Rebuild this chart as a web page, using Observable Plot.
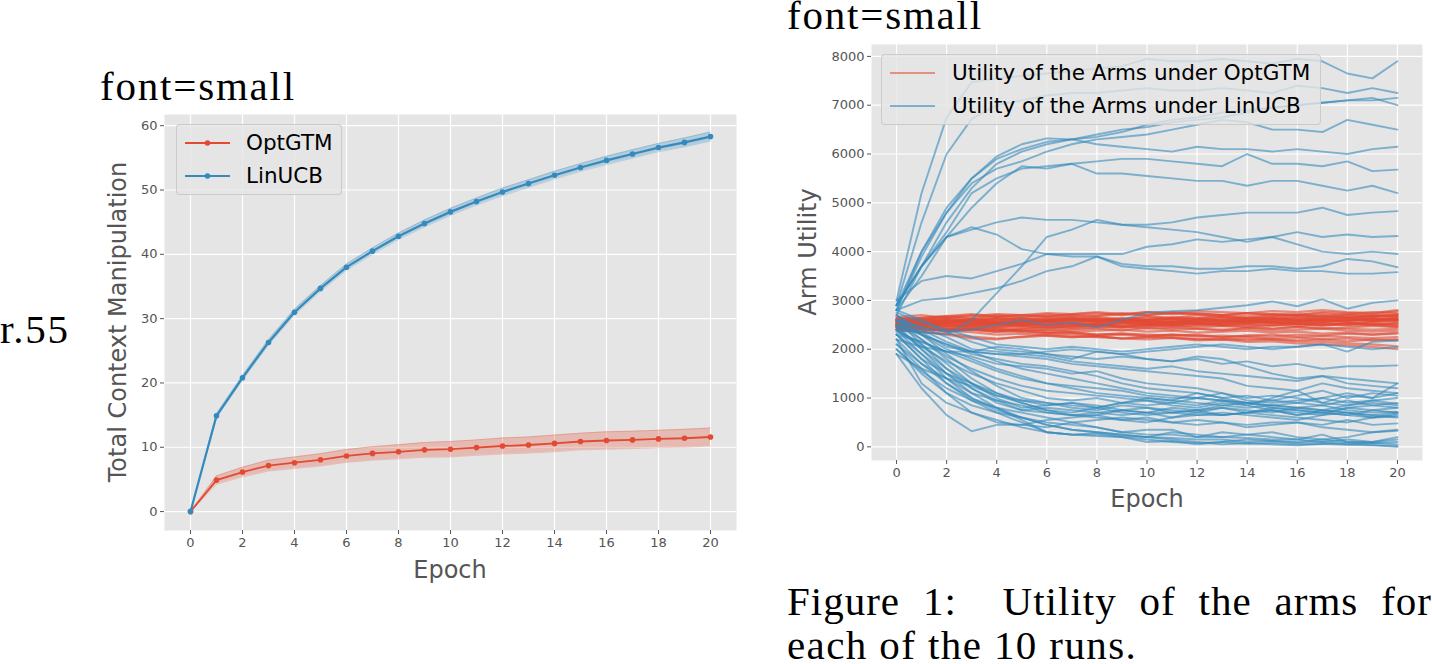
<!DOCTYPE html>
<html>
<head>
<meta charset="utf-8">
<script src="https://cdn.jsdelivr.net/npm/d3@7"></script>
<script src="https://cdn.jsdelivr.net/npm/@observablehq/plot@0.6"></script>
<style>
  html, body { margin: 0; padding: 0; background: #fff; }
  #page { position: relative; width: 1432px; height: 664px; overflow: hidden; background: #fff; }
  .tex { position: absolute; font-family: "Liberation Serif", serif; font-size: 41px; line-height: 0.75; color: #000; white-space: nowrap; letter-spacing: 1.8px; }
  .axlabel { position: absolute; font-family: "DejaVu Sans", sans-serif; font-size: 24px; line-height: 1; color: #555; white-space: nowrap; transform: translate(-50%, -50%); }
  .axlabel.v { transform: translate(-50%, -50%) rotate(-90deg); }
  .chart { position: absolute; }
  .legend { position: absolute; box-sizing: border-box; background: rgba(229,229,229,0.8); border: 1px solid rgba(200,200,200,0.9); border-radius: 4px; }
  .legend svg { position: absolute; left: 0; top: 0; overflow: visible; }
  .legend .item { position: absolute; font-family: "DejaVu Sans", sans-serif; font-size: 21.5px; line-height: 1; color: #000; white-space: nowrap; transform: translateY(-50%); }
</style>
</head>
<body>
<div id="page">
  <div class="tex" style="left:100px; top:71px;">font=small</div>
  <div class="tex" style="left:0px; top:314px;">r.55</div>
  <div class="tex" style="left:787px; top:0px;">font=small</div>
  <div class="tex" style="left:787px; top:586px; width:645px; white-space:normal; text-align:justify; text-align-last:justify; letter-spacing:1px;">Figure 1:&nbsp; Utility of the arms for</div>
  <div class="tex" style="left:787px; top:630px; letter-spacing:1.4px;">each of the 10 runs.</div>

  <div id="left" class="chart" style="left:90px; top:100px;"></div>
  <div id="right" class="chart" style="left:800px; top:30px;"></div>

  <div class="axlabel v" style="left:118px; top:322px;">Total Context Manipulation</div>
  <div class="axlabel" style="left:450px; top:570px;">Epoch</div>
  <div class="axlabel v" style="left:808px; top:252px;">Arm Utility</div>
  <div class="axlabel" style="left:1147px; top:499px;">Epoch</div>

  <div class="legend" style="left:176px; top:124px; width:166px; height:71px;">
    <svg width="166" height="71">
      <line x1="8" x2="53" y1="18" y2="18" stroke="#E24A33" stroke-width="1.8"/>
      <circle cx="30.5" cy="18" r="2.8" fill="#E24A33"/>
      <line x1="8" x2="53" y1="51" y2="51" stroke="#348ABD" stroke-width="2.2"/>
      <circle cx="30.5" cy="51" r="2.8" fill="#348ABD"/>
    </svg>
    <div class="item" style="left:69px; top:18px;">OptGTM</div>
    <div class="item" style="left:69px; top:51px;">LinUCB</div>
  </div>

  <div class="legend" style="left:881px; top:54px; width:440px; height:71px;">
    <svg width="440" height="71">
      <line x1="8" x2="53" y1="18" y2="18" stroke="#E24A33" stroke-opacity="0.55" stroke-width="1.8"/>
      <line x1="8" x2="53" y1="51" y2="51" stroke="#348ABD" stroke-opacity="0.6" stroke-width="1.8"/>
    </svg>
    <div class="item" style="left:70px; top:18px;">Utility of the Arms under OptGTM</div>
    <div class="item" style="left:70px; top:51px;">Utility of the Arms under LinUCB</div>
  </div>
</div>

<script>
// ---- shared ----
const epochs = [0, 1, 2, 3, 4, 5, 6, 7, 8, 9, 10, 11, 12, 13, 14, 15, 16, 17, 18, 19, 20];
const epochTicks = [0, 2, 4, 6, 8, 10, 12, 14, 16, 18, 20];
const RED = "#E24A33";
const BLUE = "#348ABD";

// ---- left panel: total context manipulation (mean and spread) ----
const manipTicks = [0, 10, 20, 30, 40, 50, 60];
const optgtmMean = [0, 4.9, 6.15, 7.15, 7.6, 8.05, 8.65, 9.05, 9.3, 9.6, 9.7, 9.95, 10.2, 10.35, 10.6, 10.9, 11.05, 11.15, 11.3, 11.4, 11.6];
const optgtmSpread = [0, 0.65, 0.75, 0.85, 0.9, 0.95, 1.0, 1.05, 1.1, 1.15, 1.2, 1.2, 1.25, 1.25, 1.3, 1.3, 1.35, 1.35, 1.35, 1.4, 1.4];
const linucbMean = [0, 14.9, 20.8, 26.3, 31.0, 34.7, 38.0, 40.5, 42.8, 44.8, 46.6, 48.2, 49.7, 51.0, 52.3, 53.5, 54.6, 55.6, 56.6, 57.4, 58.3];
const linucbSpread = [0, 0.3, 0.35, 0.4, 0.45, 0.45, 0.5, 0.5, 0.5, 0.55, 0.55, 0.55, 0.6, 0.6, 0.6, 0.6, 0.65, 0.65, 0.65, 0.7, 0.7];

// ---- right panel: per-arm utility, one array per arm and run ----
const utilityTicks = [0, 1000, 2000, 3000, 4000, 5000, 6000, 7000, 8000];
const optgtmArms = [
  [2620,2650,2680,2640,2700,2660,2720,2680,2700,2740,2700,2760,2720,2700,2740,2720,2700,2760,2740,2720,2780],
  [2580,2600,2560,2620,2580,2640,2600,2660,2620,2600,2680,2640,2700,2660,2640,2700,2680,2640,2700,2680,2720],
  [2550,2520,2580,2540,2600,2560,2580,2620,2580,2640,2600,2620,2580,2640,2620,2660,2620,2680,2640,2660,2700],
  [2500,2540,2520,2560,2500,2540,2580,2540,2600,2560,2580,2540,2600,2580,2560,2620,2580,2600,2640,2600,2650],
  [2480,2500,2460,2520,2480,2540,2500,2520,2480,2540,2520,2560,2520,2540,2580,2540,2560,2600,2560,2580,2620],
  [2450,2480,2500,2460,2520,2480,2500,2460,2500,2480,2520,2500,2540,2500,2520,2560,2520,2540,2500,2560,2580],
  [2420,2450,2420,2480,2440,2460,2420,2480,2460,2440,2480,2460,2500,2480,2460,2500,2480,2520,2480,2500,2540],
  [2400,2420,2380,2400,2360,2420,2380,2400,2420,2380,2440,2400,2420,2380,2440,2420,2460,2420,2440,2480,2450],
  [2600,2560,2600,2580,2540,2580,2560,2600,2560,2580,2540,2560,2600,2560,2580,2540,2520,2560,2540,2500,2520],
  [2650,2620,2660,2700,2660,2640,2680,2640,2660,2620,2600,2640,2620,2580,2600,2620,2580,2560,2600,2580,2560],
  [2520,2560,2540,2500,2540,2520,2480,2520,2500,2460,2500,2480,2440,2480,2460,2420,2460,2440,2420,2400,2420],
  [2560,2600,2640,2620,2660,2700,2680,2720,2740,2700,2760,2720,2740,2700,2680,2720,2700,2740,2700,2680,2700],
  [2470,2430,2400,2440,2420,2380,2400,2360,2380,2400,2360,2380,2340,2360,2380,2340,2360,2320,2340,2300,2320],
  [2530,2500,2540,2560,2520,2560,2600,2580,2620,2580,2560,2600,2620,2660,2620,2640,2600,2640,2660,2620,2640],
  [2440,2400,2380,2420,2400,2420,2460,2440,2480,2520,2500,2540,2520,2560,2540,2580,2560,2600,2580,2620,2600],
  [2580,2620,2600,2580,2620,2600,2640,2620,2600,2620,2660,2620,2640,2680,2640,2620,2660,2700,2660,2700,2680],
  [2500,2460,2480,2440,2460,2500,2460,2480,2520,2480,2460,2500,2480,2520,2500,2480,2520,2500,2540,2520,2480],
  [2620,2580,2620,2600,2640,2620,2580,2620,2580,2560,2600,2580,2560,2600,2620,2580,2600,2620,2580,2620,2600],
  [2460,2500,2540,2520,2560,2540,2520,2560,2540,2600,2560,2540,2580,2560,2600,2560,2580,2560,2600,2640,2600],
  [2540,2520,2480,2500,2460,2480,2440,2420,2440,2460,2420,2440,2420,2400,2420,2380,2400,2420,2380,2360,2380],
  [2450,2400,2380,2350,2300,2320,2280,2250,2270,2220,2200,2230,2180,2200,2150,2160,2120,2100,2080,2050,2000],
  [2500,2450,2420,2400,2380,2350,2330,2320,2280,2300,2260,2230,2200,2220,2180,2200,2160,2150,2120,2100,2060],
  [2400,2350,2320,2260,2220,2250,2280,2250,2270,2220,2240,2250,2210,2190,2220,2200,2180,2200,2160,2200,2180],
  [2450,2420,2380,2400,2350,2380,2330,2350,2300,2320,2300,2280,2300,2250,2280,2300,2250,2270,2250,2230,2250],
  [2380,2360,2300,2220,2200,2260,2300,2280,2250,2220,2260,2300,2280,2240,2280,2260,2300,2280,2320,2300,2340],
  [2520,2480,2440,2420,2400,2380,2350,2340,2300,2320,2280,2300,2260,2280,2250,2220,2240,2200,2220,2180,2200],
  [2660,2700,2640,2680,2720,2700,2740,2720,2760,2720,2700,2740,2780,2760,2740,2780,2760,2800,2760,2740,2800],
  [2600,2640,2680,2720,2680,2700,2660,2700,2680,2720,2760,2740,2720,2700,2740,2700,2720,2680,2720,2760,2740],
  [2560,2580,2540,2580,2620,2600,2560,2600,2640,2600,2620,2660,2640,2600,2640,2660,2700,2660,2640,2680,2660],
  [2480,2520,2560,2600,2560,2580,2620,2600,2560,2600,2580,2620,2580,2600,2560,2600,2640,2600,2620,2580,2600],
  [2500,2520,2500,2480,2520,2500,2540,2500,2520,2540,2500,2520,2540,2500,2520,2500,2540,2500,2520,2540,2500],
  [2560,2540,2580,2540,2560,2520,2560,2540,2520,2560,2540,2500,2540,2520,2560,2540,2520,2480,2520,2500,2460]
];
const linucbArms = [
  [3000,5200,6750,7470,7550,7600,7650,7700,7750,7800,7950,7900,7900,7950,7900,7850,7950,7900,7650,7550,7900],
  [2900,4600,6000,6720,7000,7100,7200,7250,7250,7300,7350,7300,7300,7350,7300,7250,7400,7350,7250,7350,7250],
  [2800,3900,4800,5500,5900,6100,6250,6300,6350,6450,6600,6700,6750,6850,6900,6950,7000,7050,7100,7100,7150],
  [2700,3700,4600,5300,5800,6050,6200,6300,6400,6500,6550,6650,6700,6750,6850,6950,7000,7050,7100,7150,7000],
  [2900,4000,4800,5400,5700,5850,6050,6200,6300,6350,6400,6500,6600,6700,6650,6500,6500,6450,6700,6600,6500],
  [2800,4000,4900,5500,5950,6200,6320,6300,6200,6150,6100,6050,6150,6100,6100,6050,6100,6050,6000,6100,6150],
  [2800,3500,4300,4900,5400,5750,5700,5800,5850,5900,5900,5850,5800,5750,6000,5800,5800,5750,5850,5650,5680],
  [2900,3700,4400,5200,5500,5700,5750,5800,5600,5600,5550,5500,5450,5450,5350,5450,5450,5350,5250,5350,5200],
  [2900,3700,4300,4450,4600,4700,4650,4650,4600,4550,4550,4600,4700,4750,4800,4800,4800,4900,4750,4800,4830],
  [2900,3700,4300,4500,4350,4050,3950,3900,3900,3750,3700,3700,3650,3650,3700,3700,3650,3700,3850,3800,3680],
  [2400,2350,2300,2600,3150,3700,4300,4450,4650,4550,4500,4450,4400,4300,4200,4300,4400,4300,4350,4300,4320],
  [3000,3400,3500,3450,3600,3750,3950,3950,3950,3950,4100,4150,4250,4200,4250,4300,4150,4000,3950,4000,3950],
  [2800,3000,3050,3150,3250,3400,3600,3700,3900,3700,3650,3600,3550,3600,3600,3650,3600,3600,3550,3550,3580],
  [2600,2450,2350,2400,2500,2600,2500,2550,2450,2600,2750,2780,2800,2850,2900,2980,2880,3020,2830,2950,3000],
  [2200,1300,900,700,550,400,300,250,250,200,150,100,80,100,60,80,50,60,40,30,20],
  [2300,1800,1300,950,700,500,300,250,220,200,100,120,50,100,150,120,100,150,100,80,50],
  [2500,2000,1500,1100,800,550,300,250,280,220,200,180,150,150,100,120,80,100,150,100,200],
  [2000,1500,1100,850,700,600,450,350,300,250,200,300,250,200,250,200,150,250,100,100,150],
  [2400,1900,1400,1000,750,600,500,450,400,300,350,350,200,300,250,300,200,150,200,300,350],
  [1900,1200,650,320,450,450,550,600,650,750,700,700,650,650,700,750,650,700,650,600,650],
  [2100,1600,1100,700,500,450,400,500,550,600,550,500,550,500,450,500,500,450,550,450,480],
  [2600,2100,1600,1200,950,750,700,650,700,750,800,700,750,800,700,750,650,750,700,650,700],
  [2300,1900,1500,1200,900,750,800,750,700,650,700,600,650,700,650,600,550,650,700,600,620],
  [2500,2200,1800,1400,1100,900,750,700,800,700,650,700,750,650,700,800,750,700,800,850,900],
  [2700,2300,1900,1550,1250,1000,900,800,750,850,800,750,700,800,750,700,800,850,750,700,720],
  [2400,2100,1700,1300,1000,800,850,900,800,900,950,850,800,900,850,750,700,650,800,750,800],
  [2200,1700,1400,1100,950,850,700,650,650,550,500,600,700,650,700,650,600,550,500,600,680],
  [2600,2300,2000,1800,1600,1450,1300,1200,1100,1050,1000,950,1100,1000,1050,950,900,1000,1100,1000,1100],
  [2700,2400,2150,1950,1750,1600,1500,1400,1300,1200,1100,1050,1000,1100,950,900,950,1000,900,950,880],
  [2500,2300,2100,1900,1800,1700,1650,1550,1450,1300,1200,1150,1100,1000,900,850,800,750,700,650,600],
  [2300,2150,1950,1850,1700,1650,1600,1500,1550,1400,1300,1250,1200,1100,1000,1050,1000,900,1050,1000,1300],
  [2600,2350,2050,1950,1900,1850,1800,1700,1650,1600,1550,1500,1450,1400,1250,1200,1150,1300,1200,1150,1100],
  [2400,2050,1750,1500,1300,1150,1000,950,1000,900,850,900,1000,950,850,1000,1150,900,850,950,1000],
  [2750,2550,2400,2250,2100,2050,2000,2050,2000,1950,2000,2050,2100,2050,2000,2050,2050,2100,1950,2150,2180],
  [2800,2600,2350,2150,2000,1950,1900,1850,1800,1850,1800,1750,1800,1700,1750,1650,1700,1600,1650,1650,1670],
  [2600,2450,2250,2000,1950,1900,1850,1750,1700,1650,1600,1650,1550,1500,1450,1400,1350,1450,1400,1350,1300],
  [2200,2050,1950,1950,2050,2000,1900,1800,1950,1900,1800,1750,1850,1800,1650,1500,1400,1450,1300,1250,1200],
  [2500,2300,2100,1950,1900,1900,1950,2000,1950,1900,1950,2000,2050,2100,2050,2000,2050,2100,2050,2000,2040],
  [2100,1700,1300,1000,800,600,450,350,300,250,200,150,100,50,80,50,30,60,80,40,0],
  [2000,1550,1200,950,800,700,600,500,400,300,250,250,200,200,180,150,150,100,50,80,100],
  [2300,1800,1500,1300,1100,950,850,900,850,750,700,800,750,850,900,800,750,700,650,750,700],
  [1900,1600,1400,1250,1050,950,900,850,800,900,1000,950,900,850,800,850,800,750,850,900,850],
  [2600,2200,1850,1600,1400,1250,1150,1100,1050,1000,950,900,850,950,900,950,1050,1150,1000,1100,1050],
  [2450,2000,1600,1300,1050,900,750,650,600,550,600,500,450,500,400,450,500,400,350,300,330],
  [2350,2150,1950,1750,1550,1400,1300,1250,1200,1150,1050,1000,1000,950,900,850,900,850,950,850,800]
];

// ---- common styling for both panels ----
const baseStyle = {
  fontFamily: "'DejaVu Sans', sans-serif",
  fontSize: "13px",
  color: "#555",
  background: "transparent",
  overflow: "visible"
};
const panelMarks = (xTicks, yTicks, yFormat) => [
  Plot.frame({fill: "#E5E5E5", stroke: null}),
  Plot.gridX(xTicks, {stroke: "#fff", strokeOpacity: 1, strokeWidth: 1.2}),
  Plot.gridY(yTicks, {stroke: "#fff", strokeOpacity: 1, strokeWidth: 1.2}),
  Plot.axisX(xTicks, {tickSize: 4, tickPadding: 3, stroke: "#555", label: null}),
  Plot.axisY(yTicks, {tickSize: 4, tickPadding: 3, stroke: "#555", label: null, tickFormat: yFormat})
];

// ---- left chart ----
const manipRows = epochs.map((e, i) => ({
  epoch: e,
  opt: optgtmMean[i], optLo: optgtmMean[i] - optgtmSpread[i], optHi: optgtmMean[i] + optgtmSpread[i],
  lin: linucbMean[i], linLo: linucbMean[i] - linucbSpread[i], linHi: linucbMean[i] + linucbSpread[i]
}));

const leftChart = Plot.plot({
  width: 660, height: 490,
  marginLeft: 74, marginRight: 14, marginTop: 14, marginBottom: 60,
  x: {domain: [-1, 21], axis: null},
  y: {domain: [-2.94, 61.74], axis: null},
  style: baseStyle,
  marks: [
    ...panelMarks(epochTicks, manipTicks, d => String(d)),
    Plot.areaY(manipRows, {x: "epoch", y1: "optLo", y2: "optHi", fill: RED, fillOpacity: 0.28}),
    Plot.line(manipRows, {x: "epoch", y: "optLo", stroke: RED, strokeOpacity: 0.25, strokeWidth: 1}),
    Plot.line(manipRows, {x: "epoch", y: "optHi", stroke: RED, strokeOpacity: 0.25, strokeWidth: 1}),
    Plot.areaY(manipRows, {x: "epoch", y1: "linLo", y2: "linHi", fill: BLUE, fillOpacity: 0.28}),
    Plot.line(manipRows, {x: "epoch", y: "linLo", stroke: BLUE, strokeOpacity: 0.25, strokeWidth: 1}),
    Plot.line(manipRows, {x: "epoch", y: "linHi", stroke: BLUE, strokeOpacity: 0.25, strokeWidth: 1}),
    Plot.line(manipRows, {x: "epoch", y: "opt", stroke: RED, strokeWidth: 1.8}),
    Plot.dot(manipRows, {x: "epoch", y: "opt", r: 2.8, fill: RED, stroke: null}),
    Plot.line(manipRows, {x: "epoch", y: "lin", stroke: BLUE, strokeWidth: 2.2}),
    Plot.dot(manipRows, {x: "epoch", y: "lin", r: 2.8, fill: BLUE, stroke: null})
  ]
});
document.getElementById("left").appendChild(leftChart);

// ---- right chart ----
const toRows = (arms, tag) => arms.flatMap((vals, k) =>
  vals.map((v, i) => ({arm: tag + k, epoch: epochs[i], utility: v})));
const optgtmRows = toRows(optgtmArms, "opt");
const linucbRows = toRows(linucbArms, "lin");

const rightChart = Plot.plot({
  width: 632, height: 490,
  marginLeft: 71, marginRight: 10, marginTop: 14, marginBottom: 60,
  x: {domain: [-1, 21], axis: null},
  y: {domain: [-280, 8244], axis: null},
  style: baseStyle,
  marks: [
    ...panelMarks(epochTicks, utilityTicks, d3.format("d")),
    Plot.line(optgtmRows, {x: "epoch", y: "utility", z: "arm", stroke: RED, strokeOpacity: 0.6, strokeWidth: 2.2}),
    Plot.line(linucbRows, {x: "epoch", y: "utility", z: "arm", stroke: BLUE, strokeOpacity: 0.6, strokeWidth: 1.9})
  ]
});
document.getElementById("right").appendChild(rightChart);
</script>
</body>
</html>
